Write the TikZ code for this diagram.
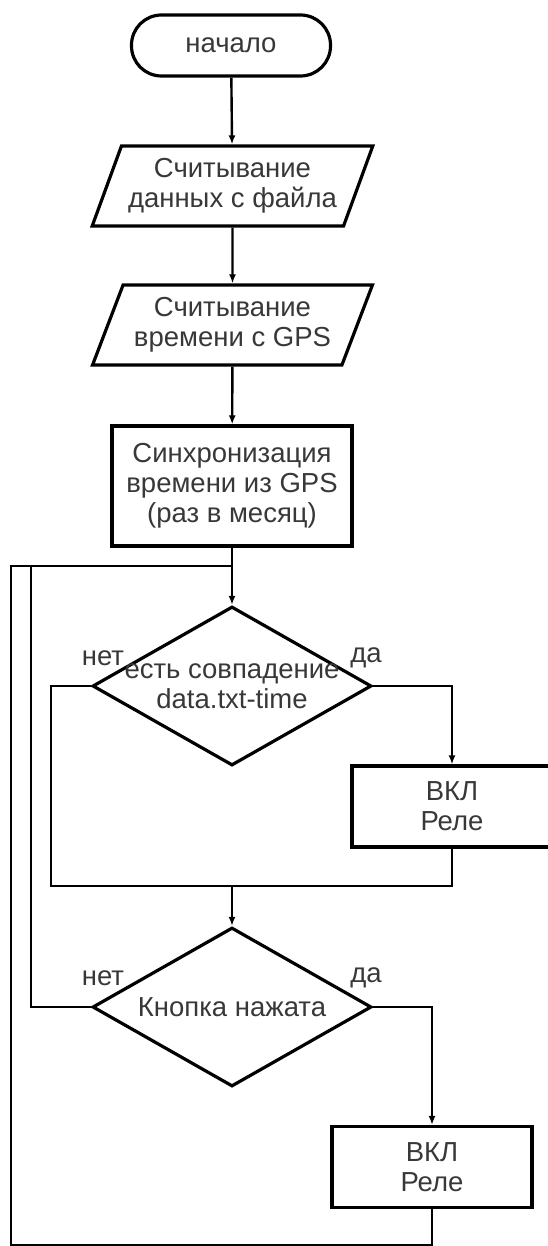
\documentclass[tikz,border=0pt]{standalone}
\usepackage{fontspec}
\setmainfont{Liberation Sans}
\usepackage{tikz}
\usepackage{xcolor}
\usetikzlibrary{positioning, shapes.geometric, arrows.meta}
\definecolor{textgray}{HTML}{383838}

\begin{document}
\begin{tikzpicture}[
    x=1pt, y=-1pt,
    every node/.style={font=\fontsize{27.5}{30}\selectfont, text=textgray},
    terminal/.style={rectangle, rounded corners=30pt, draw=black, line width=3.2pt, minimum width=199pt, minimum height=61pt},
    io/.style={trapezium, trapezium left angle=63.4, trapezium right angle=116.6, trapezium stretches=true, draw=black, line width=3.2pt, minimum width=281pt, minimum height=80pt, inner sep=0pt, align=center},
    process/.style={rectangle, draw=black, line width=3.2pt, minimum width=240pt, minimum height=120pt, inner sep=0pt, align=center},
    relay/.style={rectangle, draw=black, line width=3.2pt, minimum width=200pt, minimum height=81pt, inner sep=0pt, align=center},
    decision/.style={diamond, draw=black, line width=3.2pt, minimum width=279pt, minimum height=159pt, inner sep=0pt},
    line/.style={draw=black, line width=2.4pt},
    >={Latex[length=9pt, width=7pt]}
]
    \useasboundingbox (0,0) rectangle (547,1246);

    \node[terminal] (start) at (231,45.5) {начало};
    \node[io] (in1) at (232.5,186) {Считывание\\данных с файла};
    \node[io] (in2) at (232.5,325) {Считывание\\времени с GPS};
    \node[process] (sync) at (232,486) {Синхронизация\\времени из GPS\\(раз в месяц)};

    \node[decision] (cond1) at (232,686) {};
    \node[align=center] (cond1txt) at (cond1) {есть совпадение\\data.txt-time};
    \node[relay] (relay1) at (452,806.5) {ВКЛ\\Реле};

    \node[decision] (cond2) at (232,1007) {};
    \node (cond2txt) at (cond2) {Кнопка нажата};
    \node[relay] (relay2) at (432,1167) {ВКЛ\\Реле};

    \node (no1) at (103,658) {нет};
    \node (yes1) at (366,658) {да};
    \node (no2) at (103,978) {нет};
    \node (yes2) at (366,978) {да};

    \coordinate (loop) at (232,566);
    \coordinate (merge) at (232,886);
    \coordinate (corner) at (11,1245);

    \draw[line, ->] (start) -- (in1);
    \draw[line, ->] (in1) -- (in2);
    \draw[line, ->] (in2) -- (sync);
    \draw[line, ->] (sync) -- (cond1);

    \draw[line, ->] (cond1.east) -| (relay1.north);
    \draw[line] (cond1.west) -- ++(-40,0) |- (merge);
    \draw[line] (relay1.south) |- (merge);
    \draw[line, ->] (merge) -- (cond2);

    \draw[line, ->] (cond2.east) -| (relay2.north);
    \draw[line] (cond2.west) -- ++(-60,0) |- (loop);
    \draw[line] (relay2.south) |- (corner) |- (loop);
\end{tikzpicture}
\end{document}
